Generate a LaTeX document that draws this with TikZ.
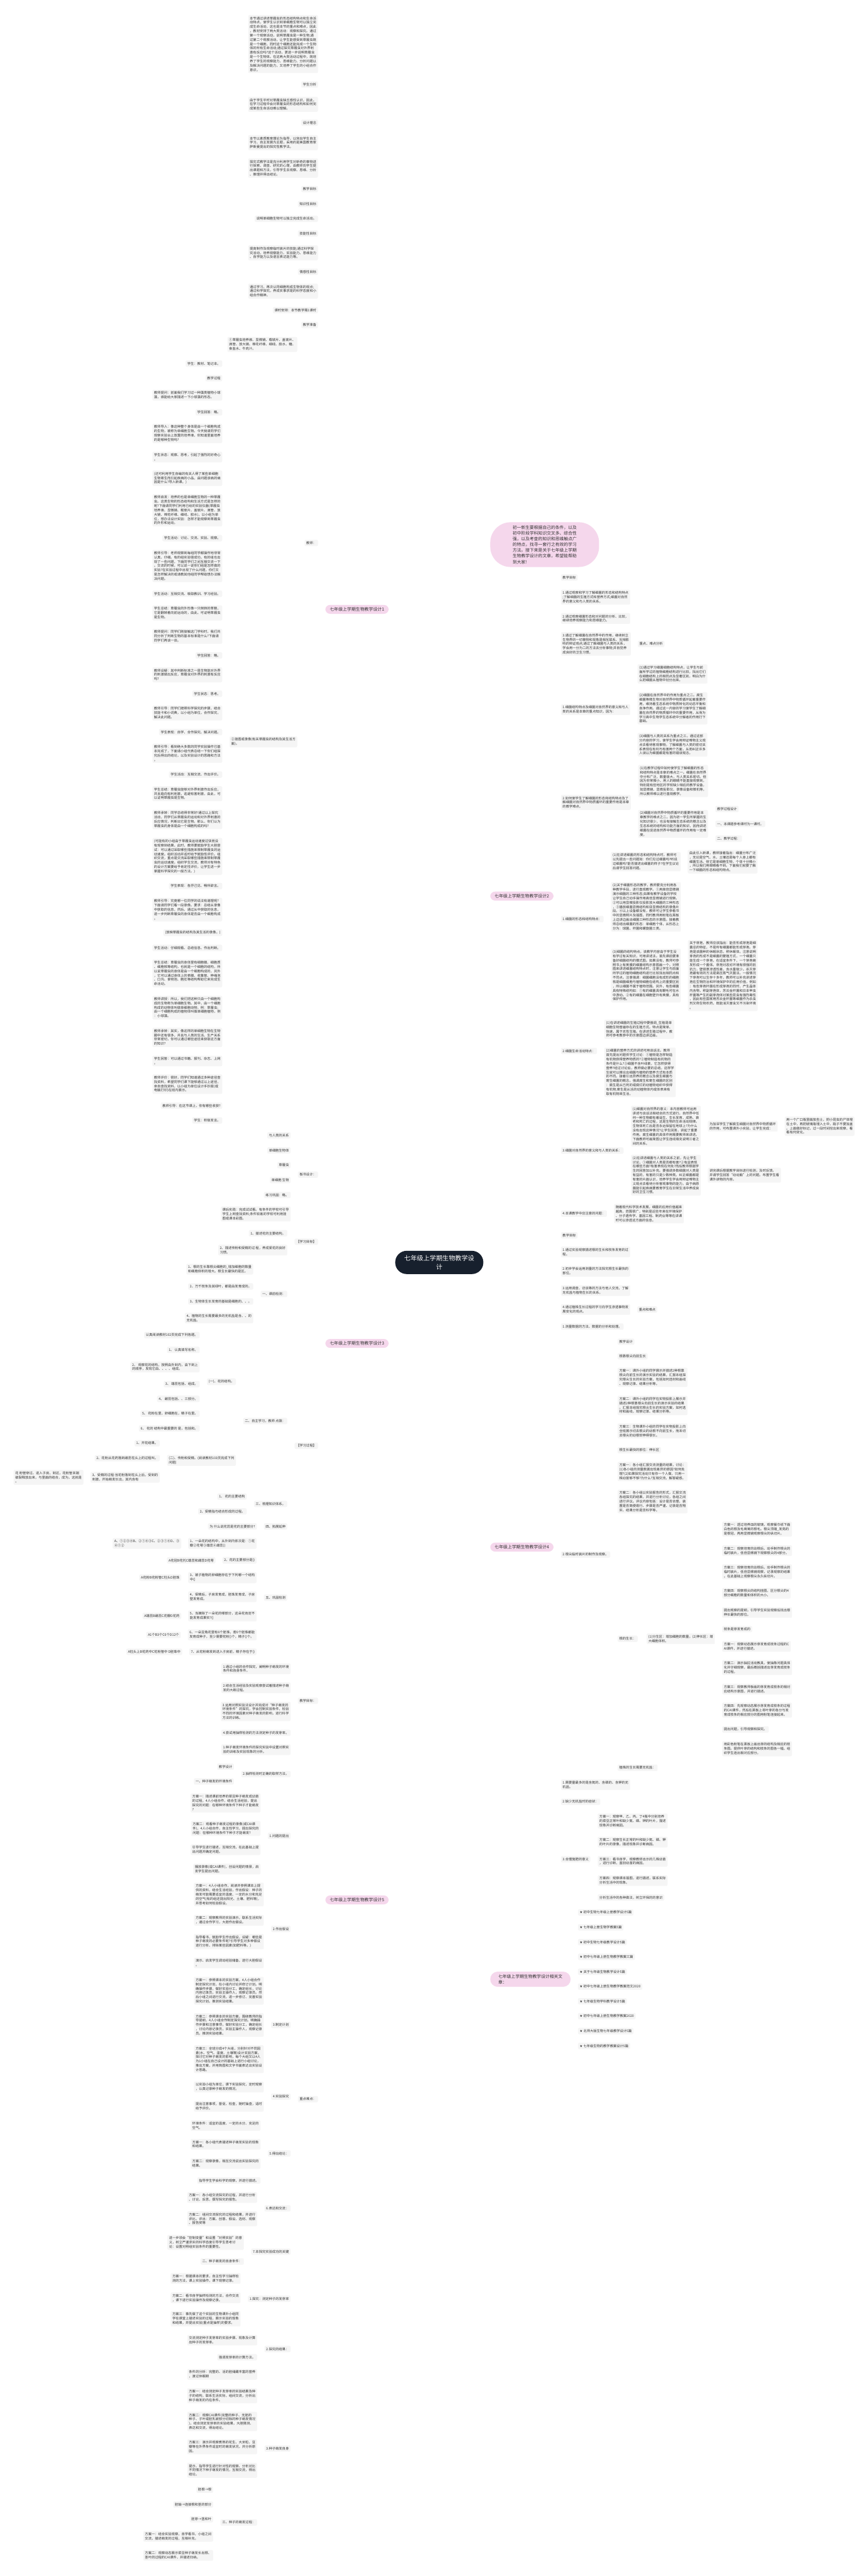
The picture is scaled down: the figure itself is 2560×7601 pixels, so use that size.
\documentclass[tikz,border=0pt]{standalone}
\usepackage{fontspec}
\setmainfont{Noto Sans CJK SC}
\newfontfamily\starfont{DejaVu Sans}
\pgfdeclarelayer{bg}
\pgfsetlayers{bg,main}
\definecolor{boxC}{HTML}{F5F5F5}
\definecolor{txtC}{HTML}{333333}
\definecolor{lineC}{HTML}{1E2A3A}
\definecolor{pinkC}{HTML}{F5D7EC}
\definecolor{rootC}{HTML}{17202D}
\tikzset{
 bx/.style={rectangle, fill=boxC, rounded corners=2pt, inner xsep=2.5pt, inner ysep=2.4pt, font=\fontsize{4.9pt}{6.35pt}\selectfont, text=txtC, align=left},
 cL/.style n args={3}{bx, anchor=east, at={([shift={(-21,#3-#2)}]#1.west)}},
 cR/.style n args={3}{bx, anchor=west, at={([shift={(21,#3-#2)}]#1.east)}},
 sLt/.style={bx, anchor=east, at={([xshift=-10pt]#1.west)}},
 sRt/.style={bx, anchor=west, at={([xshift=10pt]#1.east)}},
 pk/.style={rectangle, fill=pinkC, rounded corners=7pt, inner xsep=6.5pt, inner ysep=3.6pt, font=\fontsize{6.4pt}{8.5pt}\selectfont, text=txtC, align=left},
 conn/.style={draw=lineC, line width=1pt, rounded corners=3pt},
 mconn/.style={draw=lineC, line width=1.1pt},
}
\newcommand\cnL[2]{\draw[conn] (#2.east) -- ++(9,0) |- (#1.west);}
\newcommand\cnR[2]{\draw[conn] (#2.west) -- ++(-9,0) |- (#1.east);}
\newcommand\stL[2]{\draw[conn] (#1.west) -- (#2.east);}
\newcommand\stR[2]{\draw[conn] (#1.east) -- (#2.west);}
\begin{document}
\begin{tikzpicture}[x=0.5pt,y=-0.5pt]
\useasboundingbox (0,0) rectangle (2560,7601);
\fill[white] (0,0) rectangle (2560,7601);

% root
\node[rectangle, fill=rootC, rounded corners=17pt, inner xsep=13.3pt, inner ysep=6.4pt, text=white, font=\fontsize{9.4pt}{12.8pt}\selectfont, align=center] (root) at (1296,3725) {七年级上学期生物教学设\\计};

% ===== group 1 (left) =====
\node[pk, anchor=east] (d1) at (1147,1798) {七年级上学期生物教学设计1};
\node[cL={d1}{1798}{130}] (a1) {本节通过讲述草履虫的形态结构特点和生命活\\动特点，使学生认识到单细胞生物可以独立完\\成生命活动，这也是本节的重点和难点，因此\\，教材安排了两大类活动：观察和探究。通过\\第一个观察活动，说明草履虫是一种生物;通\\过第二个观察活动，让学生能感受到草履虫既\\是一个细胞，同时这个细胞还能完成一个生物\\体的所有生命活动;通过探究草履虫对外界刺\\激有反应吗?这个活动，更进一步说明草履虫\\是一个生物体。在这两大类活动过程中，既培\\养了学生的观察能力、思维能力、分析问题以\\及解决问题的能力，又培养了学生的小组合作\\意识。};
\node[cL={d1}{1798}{249.5}] (a2) {学生分析};
\node[cL={d1}{1798}{308}] (a3) {由于学生平时对草履虫缺乏感性认识，因此，\\在学习过程中会对草履虫的形态结构和如何完\\成某些生命活动难以理解。};
\node[cL={d1}{1798}{362}] (a4) {设计理念};
\node[cL={d1}{1798}{421}] (a5) {本节以素质教育理论为指导，以突出学生自主\\学习、自主发展为主题，采用的是美国教育家\\萨斯曼提出的探究性教学法。};
\node[cL={d1}{1798}{496}] (a6) {探究式教学法是充分利用学生对新奇的事物进\\行探索、调查、研究的心理，由教师向学生提\\出课题和方法，引导学生去观察、思维、分析\\、推理并得出结论。};
\node[cL={d1}{1798}{558}] (a7) {教学目标};
\node[cL={d1}{1798}{602}] (a8) {知识性目标};
\node[cL={d1}{1798}{645.5}] (a9) {说明单细胞生物可以独立完成生命活动。};
\node[cL={d1}{1798}{689}] (a10) {技能性目标};
\node[cL={d1}{1798}{746}] (a11) {提高制作及观察临时装片的技能;通过科学探\\究活动，培养观察能力、实验能力、思维能力\\、自学能力以及语言表达能力等。};
\node[cL={d1}{1798}{802}] (a12) {情感性目标};
\node[cL={d1}{1798}{859}] (a13) {通过学习，再次认同细胞构成生物体的观点;\\通过科学探究，养成实事求是的科学态度和小\\组合作精神。};
\node[cL={d1}{1798}{915}] (a14) {课时安排：本节教学需1课时};
\node[cL={d1}{1798}{959}] (a15) {教学准备};
\node[cL={d1}{1798}{1602}] (a16) {教师：};
\node[cL={d1}{1798}{3466}] (a17) {板书设计：};

\node[cL={a16}{1602}{1016.5}] (t1) {①草履虫培养液、显微镜、载玻片、盖玻片、\\滴管、放大镜、棉花纤维、细线、胶水、糖、\\食盐水、牛肉汁。};
\node[cL={a16}{1602}{2189}] (t2) {②挂图或录像(有关草履虫的结构及其生活方\\面)。};

\node[cL={t2}{2189}{1073}] (u1) {学生：教材、笔记本。};
\node[cL={t2}{2189}{1116}] (u2) {教学过程};
\node[cL={t2}{2189}{1166}] (u3) {教师提问：前面我们学习过一种藻类植物小球\\藻，谁能给大家描述一下小球藻的形态。};
\node[cL={t2}{2189}{1216.6}] (u4) {学生回答：略。};
\node[cL={t2}{2189}{1279}] (u5) {教师导入：像这种整个身体是由一个细胞构成\\的生物，被称为单细胞生物。今天我请同学们\\观察实验台上放置的培养液，你知道里面培养\\的是哪种生物吗?};
\node[cL={t2}{2189}{1348.6}] (u6) {学生状态：观察、思考，引起了强烈的好奇心\\。};
\node[cL={t2}{2189}{1411}] (u7) {(还可利用学生自编的有关人得了某些单细胞\\生物寄生而引起疾病的小品，由问题该病的病\\因是什么?导入新课。)};
\node[cL={t2}{2189}{1505.7}] (u8) {教师启发：培养的也是单细胞生物的一种草履\\虫。这类生物的形态结构和生活方式是怎样的\\呢?下面请同学们利用已给的实验仪器(草履虫\\培养液、显微镜、载玻片、盖玻片、滴管、放\\大镜、棉花纤维、细线、胶水)，以小组为单\\位，想办法设计实验：怎样才能观察到草履虫\\的外形和运动。};
\node[cL={t2}{2189}{1588}] (u9) {学生活动：讨论、交流、实验、观察。};
\node[cL={t2}{2189}{1670}] (u10) {教师引导：老师观察到每组同学都操作地非常\\认真、仔细。有的组实验很成功，有的组也出\\现了一些问题，下面同学们之间互相交流一下\\。交流的时候，可以说一说你们组是怎样做的\\实验?在实验过程中出现了什么问题，你们又\\是怎样解决的或请教其他组同学帮助想办法解\\决问题。};
\node[cL={t2}{2189}{1752}] (u11) {学生活动：互相交流、吸取教训、学习经验。};
\node[cL={t2}{2189}{1808.6}] (u12) {学生总结：草履虫的外形像一只倒转的草鞋，\\它是翻转着向前运动的，由此，可证明草履虫\\是生物。};
\node[cL={t2}{2189}{1877.5}] (u13) {教师提问：同学们刚接触这门学科时，我们共\\同分析了判断生物的基本标准是什么?下面请\\同学们再谈一谈。};
\node[cL={t2}{2189}{1934}] (u14) {学生回答：略。};
\node[cL={t2}{2189}{1991}] (u15) {教师设疑：其中判断标准之一是生物能对外界\\的刺激做出反应，草履虫对外界的刺激有反应\\吗?};
\node[cL={t2}{2189}{2047}] (u16) {学生状态：思考。};
\node[cL={t2}{2189}{2104}] (u17) {教师引导：同学们按照科学探究的步骤，结合\\技能卡和小词典，以小组为单位，合作探究，\\解决此问题。};
\node[cL={t2}{2189}{2160}] (u18) {学生表现：自学、合作探究、解决问题。};
\node[cL={t2}{2189}{2222.6}] (u19) {教师引导：看到绝大多数的同学实验操作已基\\本完成了，下面请小组代表总结一下你们组探\\究后得出的结论，以及实验设计的思路和方法\\。};
\node[cL={t2}{2189}{2285.7}] (u20) {学生活动：互相交流、作出评价。};
\node[cL={t2}{2189}{2342}] (u21) {学生总结：草履虫能够对外界刺激作出反应，\\并且趋向有利刺激，逃避有害刺激，由此，可\\以证明草履虫是生物。};
\node[cL={t2}{2189}{2418}] (u22) {教师承转：同学总结得非常好!通过以上探究\\活动，同学们从草履虫的运动和对外界刺激的\\反应情况，判断出它是生物。那么，你们认为\\草履虫的身体是由一个细胞构成的吗?};
\node[cL={t2}{2189}{2527}] (u23) {(可能有的小组由于草履虫运动速度过快而没\\有观察到结果，此时，教师要鼓励学生大胆尝\\试：可以通过采取哪些措施来限制草履虫的运\\动速度。组织活动并适时给予鼓励性评价。组\\织交流，重点是交流采取哪些措施来限制草履\\虫的运动速度。组织学生交流，教师对有特色\\的设计方案要给予肯定性评价，让学生进一步\\掌握科学探究的一般方法。)};
\node[cL={t2}{2189}{2614.5}] (u24) {学生表现：各抒己见、畅所欲言。};
\node[cL={t2}{2189}{2684}] (u25) {教师引导：究竟哪一位同学的说法有道理呢?\\下面请同学们看一段录像。要求：总结从录像\\中获取的信息，然后，通过从中获取的信息，\\进一步判断草履虫的身体是否由一个细胞构成\\。};
\node[cL={t2}{2189}{2752}] (u26) {(放映草履虫的结构及其生活的录像。)};
\node[cL={t2}{2189}{2797}] (u27) {学生活动：仔细观看、总结信息、作出判断。};
\node[cL={t2}{2189}{2872}] (u28) {学生总结：草履虫的身体里有细胞膜、细胞质\\、细胞核等结构，也就是一个细胞的结构，所\\以说草履虫的身体是由一个细胞构成的，另外\\，它可以通过身体上的表膜、收集管、伸缩泡\\、口沟、食物泡、胞肛等结构帮助它来完成生\\命活动。};
\node[cL={t2}{2189}{2973}] (u29) {教师讲授：所以，我们把这种只由一个细胞构\\成的生物称为单细胞生物。其中，由一个细胞\\构成的动物体叫做单细胞动物，例：草履虫;\\由一个细胞构成的植物体叫做单细胞植物，例\\：小球藻。};
\node[cL={t2}{2189}{3061}] (u30) {教师承转：其实，像这样的单细胞生物在生物\\圈中还有很多，并且与人类的生活、生产关系\\非常密切，你可以通过哪些途径来获取这方面\\的知识?};
\node[cL={t2}{2189}{3130.5}] (u31) {学生回答：可以通过书籍、报刊、杂志、上网\\。};
\node[cL={t2}{2189}{3199}] (u32) {教师评价：很好，同学们知道通过多种途径查\\找资料，希望同学们课下能够通过以上途径，\\亲自查找资料，以小组为单位设计手抄报(或\\电脑打印)在班内展示。};
\node[cL={t2}{2189}{3262.5}] (u33) {教师引导：在这节课上，你有哪些收获?};
\node[cL={t2}{2189}{3306}] (u34) {学生：积极发言。};

\node[cL={a17}{3466}{3350}] (v1) {与人类的关系};
\node[cL={a17}{3466}{3394.5}] (v2) {单细胞生物体};
\node[cL={a17}{3466}{3438}] (v3) {草履虫};
\node[cL={a17}{3466}{3482}] (v4) {单细胞 生物};
\node[cL={a17}{3466}{3526}] (v5) {练习巩固：略。};
\node[cL={a17}{3466}{3582}] (v6) {课后实践：完成试试看。有条件的学校可引导\\学生上网查找资料;条件较差的学校可利用挂\\图或课本彩图。};

% ===== group 3 (left) =====
\node[pk, anchor=east] (d3) at (1147,3964) {七年级上学期生物教学设计3};
\node[cL={d3}{3964}{3664}] (b1) {【学习目标】};
\node[cL={d3}{3964}{4266}] (b2) {【学习过程】};
\node[cL={b1}{3664}{3639}] (bb1) {1、描述花的主要结构。};
\node[cL={b1}{3664}{3688.5}] (bb2) {2、描述传粉和受精的过 程，养成爱花的良好\\习惯。};
\node[cL={b2}{4266}{3818}] (c1) {一、课前检测：};
\node[cL={b2}{4266}{4193}] (c2) {二、自主学习，教师 点拨：};
\node[cL={b2}{4266}{4437.7}] (c3) {三、梳理知识体系。};
\node[cL={b2}{4266}{4504}] (c4) {四、拓展延伸};
\node[cL={b2}{4266}{4714}] (c5) {五、巩固检测};
\node[cL={c1}{3818}{3745}] (ca1) {1、根的生长靠根尖细胞的\_增加细胞的数量\\和细胞体积的增大。根生长最快的是区。};
\node[cL={c1}{3818}{3796}] (ca2) {2、万千枝条及其绿叶，都是由发育成的。};
\node[cL={c1}{3818}{3840}] (ca3) {3、生物体生长发育的基础是细胞的、、。};
\node[cL={c1}{3818}{3889}] (ca4) {4、植物的生长需要最多的无机盐是含、、的\\无机盐。};
\node[cL={c2}{4193}{4077}] (cb1) {(一)、花的结构。};
\node[cL={c2}{4193}{4309}] (cb2) {(二)、传粉和受精。(阅读教材103页完成下列\\问题)};
\node[cL={cb1}{4077}{3939.6}] (cc1) {认真阅读教材102页完成下列各题。};
\node[cL={cb1}{4077}{3983}] (cc2) {1、 认真填写名称。};
\node[cL={cb1}{4077}{4033.5}] (cc3) {2、 观察花的结构，按照由外到内，由下到上\\的顺序，发现它由、、、、组成。};
\node[cL={cb1}{4077}{4084}] (cc4) {3、 雄蕊包括、组成。};
\node[cL={cb1}{4077}{4127.5}] (cc5) {4、 雌蕊包括、、三部分。};
\node[cL={cb1}{4077}{4171}] (cc6) {5、 花粉在里，卵细胞在，精子在里。};
\node[cL={cb1}{4077}{4215}] (cc7) {6、 花的 结构中最重要的 是，包括和。};
\node[cL={cb2}{4309}{4258.7}] (cd1) {1、开花结果。};
\node[cL={cb2}{4309}{4302.5}] (cd2) {2、花粉从花药落到雌蕊柱头上的过程叫。};
\node[cL={cb2}{4309}{4359}] (cd3) {3、受精的过程:当花粉落到柱头上后，受到的\\刺激，开始萌发长出，其内含有};
\node[sLt=cd3] (ce1) {花 粉管穿过、进入子房，到达，花粉管末端\\破裂释放出来，与里面的结合，成为。这就是\\。};
\node[cL={c3}{4437.7}{4416}] (cf1) {1、 花的主要结构};
\node[cL={c3}{4437.7}{4459.6}] (cf2) {2、受精指与结合形成的过程。};
\node[sLt=c4] (cg1) {为 什么说花蕊是花的主要部分?};
\node[cL={c5}{4714}{4554}] (ch1) {1、一朵花的结构中，从外到内依次是：①花\\瓣②花萼③雄蕊④雌蕊()};
\node[cL={c5}{4714}{4604}] (ch2) {2、花的主要部分是()};
\node[cL={c5}{4714}{4655}] (ch3) {3、被子植物的卵细胞存在于下列哪一个结构\\中()};
\node[cL={c5}{4714}{4711.5}] (ch4) {4、受精后，子房发育成，胚珠发育成，子房\\壁发育成。};
\node[cL={c5}{4714}{4768}] (ch5) {5、当摘除了一朵花的哪部分，这朵花肯定不\\能发育成果实?()};
\node[cL={c5}{4714}{4824}] (ch6) {6、一朵豆角花里有6个胚珠，若6个胚珠都能\\发育成种子，至少需要花粉()个，精子()个。};
\node[cL={c5}{4714}{4874}] (ch7) {7、从花粉萌发到进入子房前，精子存在于()};
\node[sLt=ch1] (ci1) {A、①②③④B、②①④③C、②③①④D、③\\④①②};
\node[sLt=ch2] (ci2) {A花冠B花托C雄蕊和雌蕊D花萼};
\node[sLt=ch3] (ci3) {A花粉B花粉管C柱头D胚珠};
\node[sLt=ch5] (ci5) {A雄蕊B雌蕊C花瓣D花药};
\node[sLt=ch6] (ci6) {A1个B3个C6个D12个};
\node[sLt=ch7] (ci7) {A柱头上B花药中C花粉管中 D胚珠中};

% ===== group 5 (left) =====
\node[pk, anchor=east] (d5) at (1147,5606) {七年级上学期生物教学设计5};
\node[cL={d5}{5606}{5018.5}] (e1) {教学目标：};
\node[cL={d5}{5606}{6194}] (e2) {重点难点：};
\node[cL={e1}{5018.5}{4924}] (ea1) {1.通过小组的合作探究，阐明种子萌发的环境\\条件和自身条件。};
\node[cL={e1}{5018.5}{4980}] (ea2) {2.结合生活经验及实验观察尝试着描述种子萌\\发的大致过程。};
\node[cL={e1}{5018.5}{5050}] (ea3) {3.运用对照实验法设计并完成对“种子萌发的\\环境条件”的探究，学会控制实验条件，检验\\不同的环境因素对种子萌发的影响，进行科学\\方法的训练。};
\node[cL={e1}{5018.5}{5113}] (ea4) {4.尝试用抽样检测的方法测定种子的发芽率。};
\node[cL={e2}{6194}{5162.6}] (f1) {1.种子萌发环境条件的探究实验中设置对照实\\验的训练及实验现象的分析。};
\node[cL={e2}{6194}{5234.7}] (f2) {2.抽样检测时正确的取样方法。};
\node[cL={e2}{6194}{5417}] (f3) {1.问题的提出};
\node[cL={e2}{6194}{5691.5}] (f4) {2.作出假设};
\node[cL={e2}{6194}{5975}] (f5) {3.制定计划};
\node[cL={e2}{6194}{6186.5}] (f6) {4.实验探究};
\node[cL={e2}{6194}{6354}] (f7) {5.得出结论：};
\node[cL={e2}{6194}{6516}] (f8) {6.表达和交流：};
\node[cL={e2}{6194}{6644}] (f9) {7.本探究实验成功的关键};
\node[cL={e2}{6194}{6783}] (f10) {1.探究：测定种子的发芽率};
\node[cL={e2}{6194}{6931}] (f11) {2.探究的结果：};
\node[cL={e2}{6194}{7225}] (f12) {3.种子萌发自身};
\node[cL={f2}{5234.7}{5213}] (fa1) {教学设计};
\node[cL={f2}{5234.7}{5256.6}] (fa2) {一、种子萌发的环境条件};
\node[cL={f3}{5417}{5320}] (fb1) {方案一：描述课前培养的菜豆种子萌发成幼苗\\的过程，4人小组合作，结合生活经验，提出\\探究的问题：在哪种环境条件下种子才能萌发\\?};
\node[cL={f3}{5417}{5395}] (fb2) {方案二：观看种子萌发过程的录像(或CAI课\\件)，4人小组合作，自主性学习，提出探究的\\问题：在哪种环境条件下种子才能萌发?};
\node[cL={f3}{5417}{5458}] (fb3) {引导学生进行描述，互相交流，在此基础上提\\出问题并确定问题。};
\node[cL={f3}{5417}{5515}] (fb4) {播放录像(或CAI课件)，创设问题的情景，启\\发学生提出问题。};
\node[cL={f4}{5691.5}{5590}] (fc1) {方案一：4人小组合作，阅读并参照课本上提\\供的资料，结合生活经验，作出假设：种子的\\萌发可能需要适宜的温度、一定的水分和充足\\的空气(有的组还提出阳光、土壤、肥料等)，\\并思考如何检验假设。};
\node[cL={f4}{5691.5}{5666}] (fc2) {方案二：观察教师的实验演示，联系生活实际\\，通过合作学习，大胆作出假设。};
\node[cL={f4}{5691.5}{5729}] (fc3) {指导看书，鼓励学生作出假设，设疑：哪些是\\种子萌发的必要条件呢?引导学生对多种假设\\进行分析、排除某些因素(如肥料等。)};
\node[cL={f4}{5691.5}{5792}] (fc4) {演示、启发学生调动经验储备，进行大胆假设\\。};
\node[cL={f5}{5975}{5874}] (fd1) {方案一：参照课本的实验方案，4人小组合作\\制定探究计划，在小组内讨论并修订计划。明\\确操作步骤，做好实验分工，确定组长，讨论\\内容记录员，实验主操作人，观察记录员。然\\后小组之间进行交流，进一步修订、完善实验\\探究计划。推测实验结果。};
\node[cL={f5}{5975}{5975}] (fd2) {方案二：参照课本的实验方案，围绕教师的指\\导提纲，4人小组合作制定探究计划。明确操\\作步骤和注意事项，做好实验分工，确定组长\\，讨论内容记录员，实验主操作人，观察记录\\员。推测实验结果。};
\node[cL={f5}{5975}{6076}] (fd3) {方案三：全班分成4个大组，分别针对不同因\\素(水、空气、温度、土壤等)设计实验方案，\\探讨它对种子萌发的影响，每个大组又以4人\\为1小组在自己设计的基础上进行小组讨论，\\推出方案，并用简图和文字书面表达出实验设\\计思路。};
\node[cL={f6}{6186.5}{6158}] (fe1) {以实验小组为单位，课下实验探究，定时观察\\，认真记录种子萌发的情况。};
\node[cL={f6}{6186.5}{6215}] (fe2) {提出注意事项，督促、检查，随时抽查，适时\\给予评价。};
\node[cL={f7}{6354}{6271.5}] (ff1) {环境条件：适宜的温度、一定的水分、充足的\\空气。};
\node[cL={f7}{6354}{6327}] (ff2) {方案一：各小组代表描述种子萌发实验的现象\\和结果。};
\node[cL={f7}{6354}{6384}] (ff3) {方案二：观察录像，相互交流说出实验探究的\\结果。};
\node[cL={f7}{6354}{6434}] (ff4) {指导学生学会科学的观察，并进行描述。};
\node[cL={f8}{6516}{6484}] (fg1) {方案一：各小组交流探究的过程，并进行分析\\、讨论、反思，撰写探究的报告。};
\node[cL={f8}{6516}{6547}] (fg2) {方案二：组间交流探究的过程和结果，并进行\\评比。评出：方案、创意、假设、选材、观察\\、报告奖等};
\node[cL={f9}{6644}{6616.5}] (fh1) {进一步领会“控制变量”和设置“对照实验”的意\\义，树立严谨求实的科学态度引导学生思考讨\\论：设置对照组实验条件的重要性。};
\node[cL={f9}{6644}{6673}] (fh2) {二、种子萌发的自身条件：};
\node[cL={f10}{6783}{6723}] (fi1) {方案一：根据课本的要求，自主性学习抽样检\\测的方法，课上实验操作，课下观察记录。};
\node[cL={f10}{6783}{6780}] (fi2) {方案二：看书自学抽样检测的方法，合作交流\\，课下进行实验操作及观察记录。};
\node[cL={f10}{6783}{6842}] (fi3) {方案三：事先做了这个实验的生物课外小组同\\学在课堂上描述实验的过程，展示实验的现象\\和结果，并提出实验(重点是抽样)的要求。};
\node[cL={f11}{6931}{6905}] (fj1) {交流测定种子发芽率的实验步骤、现象及计算\\出种子的发芽率。};
\node[cL={f11}{6931}{6955.5}] (fj2) {强调发芽率的计算方法。};
\node[cL={f12}{7225}{7006}] (fk1) {条件的分析：完整的、活的胚储藏丰富的营养\\，渡过休眠期};
\node[cL={f12}{7225}{7069}] (fk2) {方案一：结合测定种子发芽率的实验结果及种\\子的结构，联系生活实际，组间交流，分析出\\种子萌发的内在条件。};
\node[cL={f12}{7225}{7145}] (fk3) {方案二：观察CAI课件(完整的种子、无胚的\\种子、子叶或胚乳被部分切除的种子萌发情况\\)，结合测定发芽率的实验结果，大胆猜测、\\表达和交流，得出结论。};
\node[cL={f12}{7225}{7219.6}] (fk4) {方案三：演示并观察煮熟的花生、大米粒、豆\\瓣等在外界条件适宜时的萌发状况，并分析原\\因。};
\node[cL={f12}{7225}{7289}] (fk5) {提示、指导学生进行针对性的观察、分析对比\\不同情况下种子萌发的情况，互相交流，得出\\结论。};
\node[cL={f12}{7225}{7443}] (fk6) {三、种子的萌发过程：};
\node[cL={fk6}{7443}{7346.5}] (fl1) {胚根→根};
\node[cL={fk6}{7443}{7390}] (fl2) {胚轴→连接根和茎的部分};
\node[cL={fk6}{7443}{7433.5}] (fl3) {胚芽→茎和叶};
\node[cL={fk6}{7443}{7484}] (fl4) {方案一：结合实验观察，自学看书，小组之间\\交流，描述萌发的过程，互相补充。};
\node[cL={fk6}{7443}{7540}] (fl5) {方案二：观察动态展示菜豆种子萌发长出根、\\茎叶的过程的CAI课件，并描述归纳。};

% ===== right side =====
\node[pk, anchor=west, rounded corners=30pt, inner xsep=33pt, inner ysep=4.6pt, font=\fontsize{6.3pt}{8.5pt}\selectfont] (in1) at (1446,1607) {初一新生要根据自己的条件，以及\\初中阶段学科知识交叉多、综合性\\强，以及考查的知识和思维触点广\\的特点，找寻一套行之有效的学习\\方法。接下来是关于七年级上学期\\生物教学设计的文章，希望能帮助\\到大家!};

% group 2
\node[pk, anchor=west] (d2) at (1446,2644) {七年级上学期生物教学设计2};
\node[cR={d2}{2644}{1704}] (h1) {教学目标};
\node[cR={d2}{2644}{1762}] (h2) {1.通过观察和学习了解细菌的形态和结构特点\\;了解细菌的生殖方式和营养方式;细菌对自然\\界的意义和与人类的关系。};
\node[cR={d2}{2644}{1825}] (h3) {2.通过观察细菌形态和对问题的分析、比较，\\继续培养观察能力和思维能力。};
\node[cR={d2}{2644}{1900}] (h4) {3.通过了解细菌在自然界中的作用，继续树立\\生物界的一切事物和现象是相互联系、互相影\\响的辩证观点;通过了解细菌与人类的关系，\\学会用一分为二的方法去分析事物;并自觉养\\成良好的卫生习惯。};
\node[sRt=h4] (hs4) {重点、难点分析};
\node[cR={d2}{2644}{2094}] (h5) {1.细菌结构特点及细菌对自然界的意义和与人\\类的关系是本章的重点知识，因为：};
\node[cR={d2}{2644}{2367.6}] (h6) {2.如何使学生了解细菌的形态和结构特点及了\\解细菌对自然界中物质循环的重要作用是本章\\的教学难点。};
\node[cR={d2}{2644}{2712}] (h7) {1.细菌的形态和结构特点：};
\node[cR={d2}{2644}{3101}] (h8) {2.细菌生命活动特点：};
\node[cR={d2}{2644}{3395}] (h9) {3.细菌对自然界的意义和与人类的关系：};
\node[cR={d2}{2644}{3581}] (h10) {4.本课教学中应注意的问题：};
\node[cR={h5}{2094}{1988.5}] (ha1) {(1)通过学习细菌细胞结构特点，让学生与前\\面所学过的植物细胞结构进行比较，找出它们\\在细胞结构上的相同点及显著区别，明白为什\\么把细菌从植物中划分出来。};
\node[cR={h5}{2094}{2090}] (ha2) {(2)细菌在自然界中的作用为重点之二。腐生\\细菌等微生物对自然界中物质循环起着重要作\\用，维持着生态系统中物质转化的动态平衡和\\自净作用。通过这一内容的学习使学生了解细\\菌在自然界的物质循环中的重要作用，从而为\\学习高中生物学生态系统中分解者的作用打下\\基础。};
\node[cR={h5}{2094}{2197.5}] (ha3) {(3)细菌与人类的关系为重点之三。通过这部\\分内容的学习，使学生学会用辩证唯物主义观\\点去看待客观事物。了解细菌与人类的密切关\\系表现在有利与有害两个方面，从而纠正许多\\人误以为细菌都是有害的错误观念。};
\node[cR={h6}{2367.6}{2304.5}] (hb1) {(1)在教学过程中如何使学生了解细菌的形态\\和结构特点是本章的难点之一。细菌在自然界\\中分布广泛，数量极大，与人类关系密切。但\\因为非常微小，用人的眼睛不能直接观察到，\\特别是有些地区的学校缺少相应的教学设备，\\如显微镜、显微投影仪、录像设备和微机等，\\所以教师难以进行直观教学。};
\node[cR={h6}{2367.6}{2431}] (hb2) {(2)细菌对自然界中物质循环的重要作用是本\\章教学的难点之二。因为初一学生所掌握的生\\化知识很少，也没有接触生态系统的概念以及\\生态系统的结构和功能方面的知识，因而讲述\\细菌在促进自然界中物质循环的作用有一定难\\度。};
\node[cR={hb2}{2431}{2387}] (hc1) {教学过程设计};
\node[cR={hb2}{2431}{2431}] (hc2) {一、本课题参考课时为一课时。};
\node[cR={hb2}{2431}{2474.5}] (hc3) {二、教学过程：};
\node[cR={h7}{2712}{2542.5}] (hd1) {(1)在讲述细菌的形态和结构特点时，教师可\\以先提出一些问题如：你们见过细菌吗?听说\\过细菌吗?能否描述出细菌的样子?在学生议论\\后请学生回答问题。};
\node[cR={h7}{2712}{2676}] (hd2) {(2)关于细菌形态的教学，教师要充分利用各\\种教学手段，进行直观教学。①用高倍显微镜\\演示细菌的三种形态;如果有教学设备的学校\\让学生自己动手操作用高倍显微镜进行观察。\\②可以用显微投影仪投影放大细菌的三种形态\\，③播放细菌显微结构和亚显微结构的录像片\\段。④以上设备都没有，教师可让学生参看书\\中的显微照片及插图，同时教师用粉笔在黑板\\上边讲边画出细菌三种形态的示意图。接着教\\师总结出细菌的形态：单细胞个体，从形态上\\分为：球菌、杆菌和螺旋菌三类。};
\node[cR={h7}{2712}{2878.6}] (hd3) {(3)细菌的结构特点。该教学内容由于学生没\\有学过有关知识，可用讲述法。首先课前要准\\备好细菌结构的模式图。如果没有，教师可参\\照书上有荚膜的细菌结构示意图画一个。对照\\图来讲述细菌结构特点时，注意让学生与前面\\所学过的植物细胞结构进行比较找出相同点和\\不同点。注意强调：细菌细胞没有成形的细胞\\核是细菌细胞与植物细胞在结构上的重要区别\\，所以细菌不属于植物范围。另外，有些细菌\\具有特殊结构如：①有的细菌具有鞭毛可在水\\中游动。②有的细菌在细胞壁外有荚膜，具有\\保护作用。};
\node[sRt=hd1] (he1) {由此引入新课，教师接着指出：细菌分布广泛\\，无论是空气、水、土壤还是每个人身上都有\\细菌生活。但它是单细胞生物，个体十分微小\\，所以我们用眼睛看不到。下面我们就要了解\\一下细菌的形态和结构特点。};
\node[sRt=hd3] (he3) {关于芽孢，教师应该指出：能否形成芽孢是细\\菌总的特征，不是所有细菌都能形成芽孢。芽\\孢是该菌种的休眠状态，称休眠体。注意说明\\芽孢的形成不是细菌的繁殖方式，一个细菌只\\能生成一个芽孢，在适宜条件下，一个芽孢萌\\发形成一个菌体。芽孢对恶劣环境有很强的抵\\抗力，壁很厚渗透性差，含水量极少。杀灭芽\\孢最有效的方法是高压蒸气灭菌法。一般情况\\下芽孢可以生存十多年，教师可以补充讲述芽\\孢在生物防治和环境保护中的应用价值，例如\\：有些芽孢杆菌在形成芽孢的同时，产生晶体\\内含物，称副芽孢体，苏云金杆菌和日本甲虫\\杆菌等产生的副芽孢体对某些昆虫有强烈毒性\\，因此有些国家用苏云金杆菌等细菌作为杀虫\\剂又称生物农药，既能消灭害虫又不污染环境\\。};
\node[cR={h8}{3101}{3037}] (hf1) {(1)在讲述细菌的生殖过程中要强调\_生殖是单\\细胞生物普遍存在的生殖方式。特点是简单、\\快速，属于无性生殖。在讲述生殖过程中，教\\师可参考教参中的示意图边讲边画。};
\node[cR={h8}{3101}{3164}] (hf2) {(2)细菌的营养方式的讲述可用谈话法。教师\\首先提出问题供学生讨论：①植物是怎样制造\\有机物获得营养物质的?②植物制造有机物的\\条件是什么?③细菌不含叶绿素，它怎样获得\\营养?经过讨论后，教师做必要的总结。这样学\\生就可以推论出细菌与植物的营养方式有本质\\的不同。接着引出异养的概念以及腐生细菌与\\寄生细菌的概念。强调腐生和寄生细菌的区别\\：腐生是从已死的或腐烂的动植物组织中获得\\有机物;寄生是从活的动植物体内或体表来吸\\取有机物来生活。};
\node[cR={h9}{3395}{3323}] (hg1) {(1)细菌对自然界的意义：本内容教师可运用\\讲述与谈话法相结合的方式进行。自然界中任\\何一种生物都有着诞生、生长发育、成熟、衰\\老和死亡的过程，这是生物的生命活动规律。\\生物体死亡后是否永远保留在地球上?为什么\\没有出现这种情况?让学生回答，讲起了重要\\作用。腐生细菌的具体作用需要教师来讲述。\\下面教师可画简图让学生连线填充说明三者之\\间的关系。};
\node[cR={h9}{3395}{3467.5}] (hg2) {(2)在讲述细菌与人类的关系之前，先让学生\\讨论，①细菌对人类是否都有害?②有益表现\\在哪些方面?有害表现在何处?而后教师根据学\\生的回答加以补充。要强调多数细菌对人类是\\有益的，有害的只是少数种类。纠正细菌都是\\有害的片面认识，培养学生学会用辩证唯物主\\义观点去看待分析客观事物的能力。由于病原\\菌能引起疾病要教育学生在日常生活中养成良\\好的卫生习惯。};
\node[sRt=hg1] (hh1) {为加深学生了解腐生细菌对自然界中物质循环\\的作用，可布置课外小实验，让学生完成：};
\node[sRt=hh1] (hi1) {用一个广口瓶里面放些土，把小昆虫的尸体埋\\在土中，再把玻璃瓶埋入土中，瓶子不要加盖\\。上面做好标记，过一段时间挖出来观察，看\\看有何变化。};
\node[sRt=hg2] (hh2) {讲完课后根据教学目标进行检测，及时反馈。\\并请学生回答“动动脑”上的问题。布置学生看\\课外读物的内容。};
\node[sRt=h10] (hj1) {随着现代科学技术发展，细菌的应用价值越来\\越高，范围很广，特别是近些年来在环境保护\\、分子遗传学、基因工程、制药业等等在讲课\\时可以渗透这方面的信息。};

% group 4
\node[pk, anchor=west] (d4) at (1446,4565) {七年级上学期生物教学设计4};
\node[cR={d4}{4565}{3645}] (i1) {教学目标};
\node[cR={d4}{4565}{3694}] (i2) {1.通过实验观察描述根的生长和枝条发育的过\\程。};
\node[cR={d4}{4565}{3751}] (i3) {2.初步学会运用测量的方法探究根生长最快的\\部位。};
\node[cR={d4}{4565}{3808}] (i4) {3.运用调查、访谈等的方法与他人交流，了解\\无机盐与植物生长的关系。};
\node[cR={d4}{4565}{3864}] (i5) {4.通过植株生长过程的学习向学生渗透事物发\\展变化的观点。};
\node[sRt=i5] (is5) {重点和难点};
\node[cR={d4}{4565}{3914.5}] (i6) {1.测量数据的方法、数据的分析和处理。};
\node[cR={d4}{4565}{4587}] (i7) {2.根尖临时装片的制作及观察。};
\node[cR={d4}{4565}{5266}] (i8) {1.需要量最多的是含氮的、含磷的、含钾的无\\机盐。};
\node[cR={d4}{4565}{5316.5}] (i9) {2.缺少无机盐时的症状：};
\node[cR={d4}{4565}{5486}] (i10) {3.合理施肥的意义};
\node[cR={i7}{4587}{3959}] (j1) {教学设计};
\node[cR={i7}{4587}{4002}] (j2) {根靠根尖向前生长};
\node[cR={i7}{4587}{4064}] (j3) {方案一：课外小组的同学展示并描述2种根靠\\根尖向前生长的演示实验的结果，汇报本组探\\究根尖生长的实验方案，包括如何选材和画线\\、观察记录、结果分析等。};
\node[cR={i7}{4587}{4147}] (j4) {方案二：课外小组的同学在实物投影上展示并\\描述2种根靠根尖向前生长的演示实验的结果\\。汇报本组探究根尖生长的实验方案，如何选\\材和画线，观察记录、结果分析等。};
\node[cR={i7}{4587}{4222}] (j5) {方案三：生物课外小组的同学在实物投影上向\\全班展示切去根尖的幼根不向前生长，而未切\\去根尖的幼根却伸得很长。};
\node[cR={i7}{4587}{4279}] (j6) {根生长最快的部位：伸长区};
\node[cR={i7}{4587}{4342}] (j7) {方案一：各小组汇报交流测量的结果，讨论：\\(1)各小组的测量数据出现差异的原因?如何处\\理?(2)如果探究活动只有你一个人做，只用一\\株幼苗够不够?为什么?互相交流，解答疑惑。};
\node[cR={i7}{4587}{4430.5}] (j8) {方案二：各小组以实验报告的形式，汇报交流\\各组探究的结果，并进行分析讨论，各组之间\\进行评议。评议内容包括：设计是否合理、装\\置是否简便易行、步骤是否严谨、记录是否翔\\实、结果分析是否科学等。};
\node[cR={i7}{4587}{4835.5}] (j9) {根的生长：};
\node[cR={i7}{4587}{5216}] (j10) {植株的生长需要无机盐：};
\node[bx, anchor=west, at={([xshift=13pt]j9.east)}] (k) {(1)分生区：增加细胞的数量。(2)伸长区：增\\大细胞体积。};
\node[cR={k}{4835.5}{4512}] (k1) {方案一：透过培养皿的玻璃，观察餐巾纸下面\\白色的根及毛茸茸的根毛。根尖顶端\_发亮的\\是根冠，再用显微镜观察根尖的纵切片。};
\node[cR={k}{4835.5}{4575.5}] (k2) {方案二：观察培育的幼根后，动手制作根尖的\\临时装片，低倍显微镜下观察根尖的4部分。};
\node[cR={k}{4835.5}{4638}] (k3) {方案三：观察培育的幼根后，动手制作根尖的\\临时装片，低倍显微镜观察，记录观察的结果\\。在此基础上观察根尖永久纵切片。};
\node[cR={k}{4835.5}{4701}] (k4) {方案四：观察根尖的结构挂图，区分根尖的4\\部分细胞的数量和体积的大小。};
\node[cR={k}{4835.5}{4758}] (k5) {提出观察的提纲，引导学生实验观察后找出根\\伸长最快的部位。};
\node[cR={k}{4835.5}{4807}] (k6) {枝条是芽发育成的};
\node[cR={k}{4835.5}{4858}] (k7) {方案一：观察动态展示芽发育成枝条过程的C\\AI课件，并进行描述。};
\node[cR={k}{4835.5}{4920.5}] (k8) {方案二：演示抽拉活动教具，使抽象问题具体\\化并仔细观察，最后概括描述出芽发育成枝条\\的过程。};
\node[cR={k}{4835.5}{4984}] (k9) {方案三：观察教师板画的芽发育成枝条的相对\\应结构示意图，并进行描述。};
\node[cR={k}{4835.5}{5046}] (k10) {方案四：先观察动态展示芽发育成枝条的过程\\的CAI课件，然后在黑板上将叶芽的各分与发\\育成枝条的相应部分的图用粉笔连接起来。};
\node[cR={k}{4835.5}{5103}] (k11) {提出问题，引导观察和探究。};
\node[cR={k}{4835.5}{5160}] (k12) {用彩色粉笔在黑板上画出芽的结构及相应的枝\\条图。提供叶芽的结构和枝条的图各一幅，组\\织学生连出相对应部分。};
\node[cR={i10}{5486}{5373}] (m1) {方案一：观察甲、乙、丙、丁4瓶中分别培养\\的菜豆正常叶和缺少氮、磷、钾的叶片，描述\\现象并诊断病因。};
\node[cR={i10}{5486}{5435.6}] (m2) {方案二：观察生长正常的叶和缺少氮、磷、钾\\的叶片的录像，描述现象并诊断病因。};
\node[cR={i10}{5486}{5492}] (m3) {方案三：看书自学，观察教师出示的几株幼苗\\，进行诊断，鉴别幼苗的病因。};
\node[cR={i10}{5486}{5549}] (m4) {方案四：观察课本插图，进行描述，联系实际\\分析生活中的现象。};
\node[cR={i10}{5486}{5599}] (m5) {分析生活中的各种做法，树立环保的的意识};

% related
\node[pk, anchor=west, rounded corners=11pt, inner xsep=12pt, inner ysep=4pt, font=\fontsize{6.3pt}{8.5pt}\selectfont] (r0) at (1446,5840) {七年级上学期生物教学设计相关文\\章：};
\node[cR={r0}{5840}{5643}] (r1) {{\starfont★} 初中生物七年级上册教学设计5篇};
\node[cR={r0}{5840}{5687}] (r2) {{\starfont★} 七年级上册生物学教案5篇};
\node[cR={r0}{5840}{5730.5}] (r3) {{\starfont★} 初中生物七年级教学设计5篇};
\node[cR={r0}{5840}{5774}] (r4) {{\starfont★} 初中七年级上册生物教学教案三篇};
\node[cR={r0}{5840}{5818}] (r5) {{\starfont★} 关于七年级生物教学设计5篇};
\node[cR={r0}{5840}{5862}] (r6) {{\starfont★} 初中七年级上册生物教学教案范文2020};
\node[cR={r0}{5840}{5905}] (r7) {{\starfont★} 七年级生物学科教学设计5篇};
\node[cR={r0}{5840}{5949}] (r8) {{\starfont★} 初中七年级上册生物教学教案2020};
\node[cR={r0}{5840}{5993}] (r9) {{\starfont★} 北师大版生物七年级教学设计5篇};
\node[cR={r0}{5840}{6037}] (r10) {{\starfont★} 七年级生物的教学教案设计5篇};

% ===== connectors =====
\begin{pgfonlayer}{bg}
\draw[mconn] (root.north) .. controls (1296,2400) and (1230,1798) .. (d1.east);
\draw[mconn] (root.south) .. controls (1296,3900) and (1220,3964) .. (d3.east);
\draw[mconn] (root.south) .. controls (1296,5000) and (1230,5606) .. (d5.east);
\draw[mconn] (root.north) .. controls (1296,2400) and (1350,1607) .. (in1.west);
\draw[mconn] (root.north) .. controls (1296,3000) and (1370,2644) .. (d2.west);
\draw[mconn] (root.south) .. controls (1296,4200) and (1370,4565) .. (d4.west);
\draw[mconn] (root.south) .. controls (1296,5300) and (1370,5840) .. (r0.west);

\foreach \i in {1,...,17} {\cnL{d1}{a\i}}
\cnL{a16}{t1} \cnL{a16}{t2}
\foreach \i in {1,...,34} {\cnL{t2}{u\i}}
\foreach \i in {1,...,6} {\cnL{a17}{v\i}}

\cnL{d3}{b1} \cnL{d3}{b2}
\cnL{b1}{bb1} \cnL{b1}{bb2}
\foreach \i in {1,...,5} {\cnL{b2}{c\i}}
\foreach \i in {1,...,4} {\cnL{c1}{ca\i}}
\cnL{c2}{cb1} \cnL{c2}{cb2}
\foreach \i in {1,...,7} {\cnL{cb1}{cc\i}}
\foreach \i in {1,...,3} {\cnL{cb2}{cd\i}}
\stL{cd3}{ce1}
\cnL{c3}{cf1} \cnL{c3}{cf2}
\stL{c4}{cg1}
\foreach \i in {1,...,7} {\cnL{c5}{ch\i}}
\foreach \i in {1,2,3,5,6,7} {\stL{ch\i}{ci\i}}

\cnL{d5}{e1} \cnL{d5}{e2}
\foreach \i in {1,...,4} {\cnL{e1}{ea\i}}
\foreach \i in {1,...,12} {\cnL{e2}{f\i}}
\cnL{f2}{fa1} \cnL{f2}{fa2}
\foreach \i in {1,...,4} {\cnL{f3}{fb\i}}
\foreach \i in {1,...,4} {\cnL{f4}{fc\i}}
\foreach \i in {1,...,3} {\cnL{f5}{fd\i}}
\foreach \i in {1,2} {\cnL{f6}{fe\i}}
\foreach \i in {1,...,4} {\cnL{f7}{ff\i}}
\foreach \i in {1,2} {\cnL{f8}{fg\i}}
\foreach \i in {1,2} {\cnL{f9}{fh\i}}
\foreach \i in {1,...,3} {\cnL{f10}{fi\i}}
\foreach \i in {1,2} {\cnL{f11}{fj\i}}
\foreach \i in {1,...,6} {\cnL{f12}{fk\i}}
\foreach \i in {1,...,5} {\cnL{fk6}{fl\i}}

\foreach \i in {1,...,10} {\cnR{d2}{h\i}}
\stR{h4}{hs4}
\foreach \i in {1,...,3} {\cnR{h5}{ha\i}}
\cnR{h6}{hb1} \cnR{h6}{hb2}
\foreach \i in {1,...,3} {\cnR{hb2}{hc\i}}
\foreach \i in {1,...,3} {\cnR{h7}{hd\i}}
\stR{hd1}{he1} \stR{hd3}{he3}
\cnR{h8}{hf1} \cnR{h8}{hf2}
\cnR{h9}{hg1} \cnR{h9}{hg2}
\stR{hg1}{hh1} \stR{hh1}{hi1} \stR{hg2}{hh2}
\stR{h10}{hj1}

\foreach \i in {1,...,10} {\cnR{d4}{i\i}}
\stR{i5}{is5}
\foreach \i in {1,...,10} {\cnR{i7}{j\i}}
\stR{j9}{k}
\foreach \i in {1,...,12} {\cnR{k}{k\i}}
\foreach \i in {1,...,5} {\cnR{i10}{m\i}}
\foreach \i in {1,...,10} {\cnR{r0}{r\i}}
\end{pgfonlayer}
\end{tikzpicture}
\end{document}
